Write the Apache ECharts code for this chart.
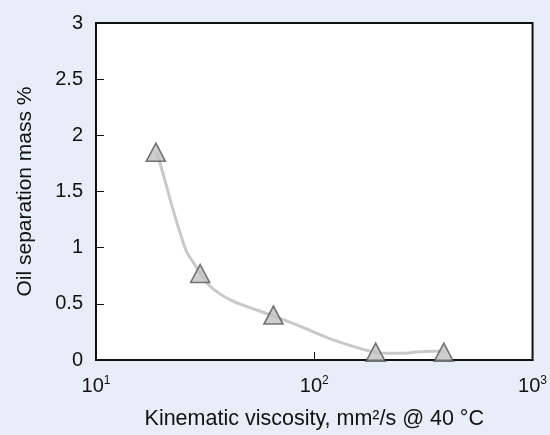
<!DOCTYPE html>
<html>
<head>
<meta charset="utf-8">
<script src="https://cdn.jsdelivr.net/npm/echarts@6/dist/echarts.min.js"></script>
<style>
  html, body { margin: 0; padding: 0; background: #e8eef8; }
  #chart { width: 550px; height: 435px; }
</style>
</head>
<body>
<div id="chart"></div>
<script>
// Measured samples: kinematic viscosity (mm²/s @ 40 °C) vs oil separation (mass %)
const sampleViscosity = [18.8, 30, 65, 191, 392];
const sampleSeparation = [1.85, 0.77, 0.4, 0.07, 0.07];

// Fitted trend curve through the samples
const trendViscosity = [18.8, 19.6, 22.3, 25.8, 28.1, 32.8, 41.7, 61.3, 83.8, 114.5, 145.5, 173.8, 192.8, 213.9, 255.3, 292.4, 349, 392];
const trendSeparation = [1.85, 1.76, 1.37, 0.98, 0.86, 0.67, 0.53, 0.41, 0.31, 0.2, 0.13, 0.086, 0.068, 0.059, 0.059, 0.071, 0.077, 0.077];

// Axis settings
const xExponents = [1, 2, 3];            // decades shown: 10^1 .. 10^3
const yTicks = [0, 0.5, 1, 1.5, 2, 2.5, 3];

const FONT = '"Liberation Sans", Arial, Helvetica, sans-serif';

const chart = echarts.init(document.getElementById('chart'), null, { renderer: 'canvas' });

const pairs = (xs, ys) => xs.map((x, i) => [x, ys[i]]);

chart.setOption({
  backgroundColor: '#e8eef8',
  animation: false,
  grid: {
    left: 96, right: 12, top: 23, bottom: 72,
    show: true,
    backgroundColor: '#ffffff',
    borderColor: '#111111',
    borderWidth: 2,
    containLabel: false
  },
  xAxis: {
    type: 'log',
    logBase: 10,
    min: Math.pow(10, xExponents[0]),
    max: Math.pow(10, xExponents[xExponents.length - 1]),
    name: 'Kinematic viscosity, mm²/s @ 40 °C',
    nameLocation: 'middle',
    nameGap: 48,
    nameTextStyle: { fontFamily: FONT, fontSize: 21.5, color: '#111' },
    axisLine: { show: true, lineStyle: { color: '#111', width: 2 } },
    axisTick: { show: true, inside: true, length: 8, lineStyle: { color: '#111', width: 1 } },
    minorTick: { show: false },
    splitLine: { show: false },
    axisLabel: {
      margin: 15,
      formatter: function (v) {
        const e = Math.round(Math.log10(v));
        return '{b|10}{s|' + e + '}';
      },
      rich: {
        b: { fontFamily: FONT, fontSize: 20, color: '#111', lineHeight: 22 },
        s: { fontFamily: FONT, fontSize: 12, color: '#111', verticalAlign: 'top', lineHeight: 12 }
      }
    }
  },
  yAxis: {
    type: 'value',
    min: yTicks[0],
    max: yTicks[yTicks.length - 1],
    interval: yTicks[1] - yTicks[0],
    name: 'Oil separation mass %',
    nameLocation: 'middle',
    nameRotate: 90,
    nameGap: 60,
    nameTextStyle: { fontFamily: FONT, fontSize: 21, color: '#111' },
    axisLine: { show: true, lineStyle: { color: '#111', width: 2 } },
    axisTick: { show: true, inside: true, length: 8, lineStyle: { color: '#111', width: 1 } },
    splitLine: { show: false },
    axisLabel: {
      margin: 13,
      fontFamily: FONT, fontSize: 20, color: '#111',
      formatter: v => String(v)
    }
  },
  series: [
    {
      name: 'Trend',
      type: 'line',
      data: pairs(trendViscosity, trendSeparation),
      smooth: 0.3,
      showSymbol: false,
      symbol: 'none',
      lineStyle: { color: '#c9c9c9', width: 3 },
      z: 2
    },
    {
      name: 'Samples',
      type: 'scatter',
      data: pairs(sampleViscosity, sampleSeparation),
      symbol: 'triangle',
      symbolSize: [19, 18],
      itemStyle: { color: '#c2c2c2', borderColor: '#555555', borderWidth: 1.6 },
      z: 3
    }
  ]
});
</script>
</body>
</html>
